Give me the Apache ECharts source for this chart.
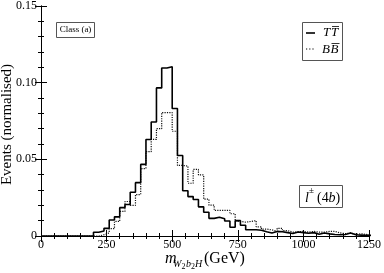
<!DOCTYPE html>
<html>
<head>
<meta charset="utf-8">
<script src="https://cdn.jsdelivr.net/npm/echarts@6/dist/echarts.min.js"></script>
<style>html,body{margin:0;padding:0;background:#fff}#c{width:384px;height:273px}</style>
</head>
<body>
<div id="c"></div>
<script>
// Histogram bins: 20 GeV wide, starting at 0 GeV
var binWidth = 20;
var ttValues = [0,0,0,0,0,0,0,0,0,0,
  0.0024,0.0032,0.0050,0.0104,0.0125,0.0185,0.0205,0.0285,0.0348,0.0467,
  0.0629,0.0743,0.0966,0.1096,0.1104,0.0832,0.0525,0.0295,0.0257,0.0238,
  0.0190,0.0155,0.0115,0.0122,0.0112,0.0098,0.0057,0.0100,0.0070,0.0041,
  0.0041,0.0038,0.0028,0.0020,0.0030,0.0028,0.0022,0.0016,0.0026,0.0022,
  0.0018,0.0022,0.0012,0.0020,0.0014,0.0010,0.0008,0.0010,0.0020,0.0008,
  0.0006,0.0004,0.0004];
var bbValues = [0,0,0,0,0,0,0,0,0,0,
  0,0.0008,0.0020,0.0048,0.0095,0.0160,0.0225,0.0200,0.0270,0.0440,
  0.0550,0.0630,0.0700,0.0805,0.0805,0.0683,0.0460,0.0456,0.0344,0.0434,
  0.0398,0.0240,0.0201,0.0167,0.0167,0.0167,0.0145,0.0096,0.0090,0.0095,
  0.0100,0.0060,0.0045,0.0040,0.0030,0.0050,0.0035,0.0025,0.0028,0.0030,
  0.0025,0.0030,0.0025,0.0025,0.0030,0.0030,0.0020,0.0015,0.0020,0.0010,
  0.0015,0.0010,0.0005];
var xTickLabels = {0:'0',250:'250',500:'500',750:'750',1000:'1000',1250:'1250'};
var yTickLabels = {0:'0',0.05:'0.05',0.1:'0.10',0.15:'0.15'};

function toSteps(vals){
  var d = vals.map(function(v,i){return [i*binWidth, v];});
  d.push([vals.length*binWidth, vals[vals.length-1]]);
  return d;
}
var FONT = 'Liberation Serif';
var chart = echarts.init(document.getElementById('c'), null, {renderer:'canvas'});
var axisCommon = {
  axisLine:{show:true,lineStyle:{color:'#000',width:1}},
  axisTick:{show:true,inside:true,length:6,lineStyle:{color:'#000',width:1}},
  minorTick:{show:true,splitNumber:5,length:3,lineStyle:{color:'#000',width:1}},
  splitLine:{show:false}
};
chart.setOption({
  animation:false,
  backgroundColor:'#fff',
  grid:{left:41,right:13,top:5,bottom:37,containLabel:false},
  xAxis:[
    Object.assign({type:'value',min:0,max:1250,interval:250,position:'bottom',
      axisLabel:{color:'#000',fontFamily:FONT,fontSize:12,margin:3,
        formatter:function(v){var k=Math.round(v);return xTickLabels[k]!==undefined?xTickLabels[k]:'';}}}, axisCommon),
    Object.assign({type:'value',min:0,max:1250,interval:250,position:'top',
      axisLabel:{show:false}}, axisCommon)
  ],
  yAxis:[
    Object.assign({type:'value',min:0,max:0.15,interval:0.05,position:'left',
      axisLabel:{color:'#000',fontFamily:FONT,fontSize:12,margin:4,
        formatter:function(v){var k=Math.round(v*100)/100;return yTickLabels[k]!==undefined?yTickLabels[k]:'';}}}, axisCommon),
    Object.assign({type:'value',min:0,max:0.15,interval:0.05,position:'right',
      axisLabel:{show:false}}, axisCommon)
  ],
  series:[
    {type:'line',name:'TT',step:'end',showSymbol:false,symbol:'none',data:toSteps(ttValues),
      lineStyle:{color:'#000',width:1.6,type:'solid'},z:3},
    {type:'line',name:'BB',step:'end',showSymbol:false,symbol:'none',data:toSteps(bbValues),
      lineStyle:{color:'#111',width:1.2,type:'dotted'},z:2}
  ],
  graphic:[
    {type:'text',x:7.5,y:124.5,rotation:Math.PI/2,
      style:{text:'Events (normalised)',font:'15px "Liberation Serif"',fill:'#000',align:'center',verticalAlign:'middle'}},
    {type:'text',x:165,y:259,style:{text:'m',font:'italic 16px "Liberation Serif"',fill:'#000',align:'left',verticalAlign:'middle'}},
    {type:'text',x:173,y:264,style:{text:'W',font:'italic 10px "Liberation Serif"',fill:'#000',align:'left',verticalAlign:'middle'}},
    {type:'text',x:181.5,y:267,style:{text:'2',font:'8px "Liberation Serif"',fill:'#000',align:'left',verticalAlign:'middle'}},
    {type:'text',x:186,y:264,style:{text:'b',font:'italic 10px "Liberation Serif"',fill:'#000',align:'left',verticalAlign:'middle'}},
    {type:'text',x:191,y:267,style:{text:'2',font:'8px "Liberation Serif"',fill:'#000',align:'left',verticalAlign:'middle'}},
    {type:'text',x:195,y:264,style:{text:'H',font:'italic 10px "Liberation Serif"',fill:'#000',align:'left',verticalAlign:'middle'}},
    {type:'text',x:204,y:259,style:{text:'(GeV)',font:'16px "Liberation Serif"',fill:'#000',align:'left',verticalAlign:'middle'}},
    {type:'rect',shape:{x:56.5,y:22.5,width:38,height:15},style:{fill:'#fff',stroke:'#555',lineWidth:1}},
    {type:'text',x:75.5,y:30,style:{text:'Class (a)',font:'9px "Liberation Serif"',fill:'#000',align:'center',verticalAlign:'middle'}},
    {type:'rect',shape:{x:302.5,y:22.5,width:40,height:38},style:{fill:'#fff',stroke:'#555',lineWidth:1}},
    {type:'line',shape:{x1:306,y1:33,x2:315,y2:33},style:{stroke:'#000',lineWidth:1.6}},
    {type:'text',x:323,y:33,style:{text:'T',font:'italic 13px "Liberation Serif"',fill:'#000',align:'left',verticalAlign:'middle'}},
    {type:'text',x:331,y:33,style:{text:'T',font:'italic 13px "Liberation Serif"',fill:'#000',align:'left',verticalAlign:'middle'}},
    {type:'line',shape:{x1:332,y1:26.5,x2:339,y2:26.5},style:{stroke:'#000',lineWidth:0.8}},
    {type:'line',shape:{x1:306,y1:49,x2:315,y2:49},style:{stroke:'#000',lineWidth:1.2,lineDash:[1.2,2]}},
    {type:'text',x:322,y:50,style:{text:'B',font:'italic 13px "Liberation Serif"',fill:'#000',align:'left',verticalAlign:'middle'}},
    {type:'text',x:330.5,y:50,style:{text:'B',font:'italic 13px "Liberation Serif"',fill:'#000',align:'left',verticalAlign:'middle'}},
    {type:'line',shape:{x1:331.5,y1:43.5,x2:339.5,y2:43.5},style:{stroke:'#000',lineWidth:0.8}},
    {type:'rect',shape:{x:299.5,y:185.5,width:43,height:22},style:{fill:'#fff',stroke:'#555',lineWidth:1}},
    {type:'text',x:305,y:198,style:{text:'l',font:'italic 14px "Liberation Serif"',fill:'#000',align:'left',verticalAlign:'middle'}},
    {type:'text',x:309,y:191,style:{text:'\u00b1',font:'9px "Liberation Serif"',fill:'#000',align:'left',verticalAlign:'middle'}},
    {type:'text',x:317,y:198,style:{text:'(4',font:'14px "Liberation Serif"',fill:'#000',align:'left',verticalAlign:'middle'}},
    {type:'text',x:328.5,y:198,style:{text:'b',font:'italic 14px "Liberation Serif"',fill:'#000',align:'left',verticalAlign:'middle'}},
    {type:'text',x:335.5,y:198,style:{text:')',font:'14px "Liberation Serif"',fill:'#000',align:'left',verticalAlign:'middle'}}
  ]
});
</script>
</body>
</html>
